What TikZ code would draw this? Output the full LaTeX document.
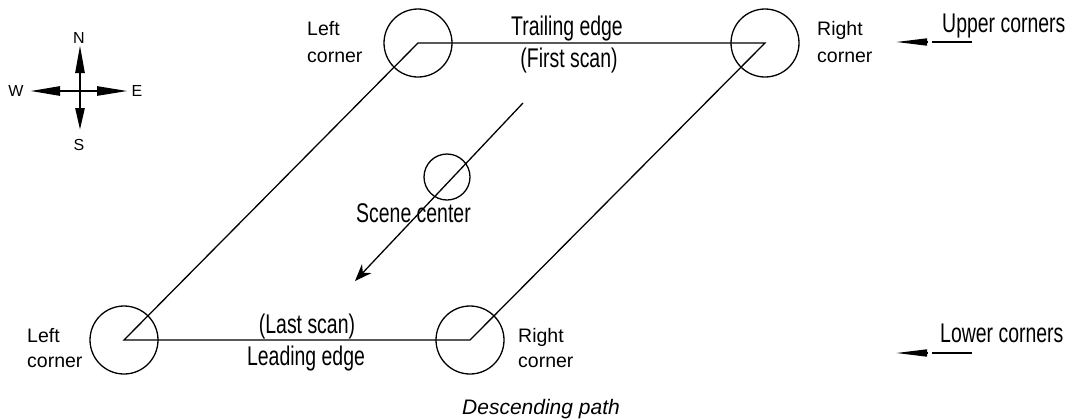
\documentclass[tikz,border=0pt]{standalone}
\usepackage{fontspec}
\setmainfont{Liberation Sans}
\usetikzlibrary{arrows.meta}
\newcommand\condensed[1]{\scalebox{0.72}[1]{#1}}
\begin{document}
\begin{tikzpicture}[x=1pt,y=-1pt,
  edge/.style={line width=1.3pt},
  ring/.style={draw, circle, line width=1.3pt, minimum size=68pt, inner sep=0pt},
  big/.style={font=\fontsize{27}{30}\selectfont, inner sep=0pt, anchor=base},
  small/.style={font=\fontsize{19.5}{21}\selectfont, inner sep=0pt, anchor=base west},
  compasslabel/.style={font=\fontsize{16}{17}\selectfont, inner sep=0pt},
  compassarrow/.style={line width=2.6pt},
]
\useasboundingbox (0,0) rectangle (1075,418);

% corner circles
\node[ring] (ul) at (418,43) {};
\node[ring] (ur) at (765,43) {};
\node[ring] (ll) at (124,340) {};
\node[ring] (lr) at (470,340) {};
% scene parallelogram
\draw[edge] (ul.center) -- (ur.center) -- (lr.center) -- (ll.center) -- cycle;

% scene center
\node[ring, minimum size=46pt] (sc) at (447,177) {};
\coordinate (scanstart) at (523,103);
\coordinate (scanend) at (355,281);
\draw[edge, -{Stealth[length=17pt,width=13pt]}] (scanstart) -- (scanend);
\node[big, anchor=base west] (scenetxt) at (356,222) {\condensed{Scene center}};

% edge labels
\node[big] (trail) at (567,35) {\condensed{Trailing edge}};
\node[big] (first) at (569,67) {\condensed{(First scan)}};
\node[big] (last) at (307,333) {\condensed{(Last scan)}};
\node[big] (lead) at (306,365) {\condensed{Leading edge}};

% corner labels
\node[small] (ulA) at (307,35) {Left};
\node[small] (ulB) at (307,62) {corner};
\node[small] (urA) at (817,35) {Right};
\node[small] (urB) at (817,62) {corner};
\node[small] (llA) at (27,342) {Left};
\node[small] (llB) at (27,367) {corner};
\node[small] (lrA) at (518,342) {Right};
\node[small] (lrB) at (518,367) {corner};

% upper / lower corners
\node[big, anchor=base west] (upper) at (942,32) {\condensed{Upper corners}};
\node[big, anchor=base west] (lower) at (940,342) {\condensed{Lower corners}};
\coordinate (uS) at (972,42);
\coordinate (uG) at (932,42);
\coordinate (uH) at (927,42);
\coordinate (uT) at (896,42);
\draw[line width=1.6pt] (uS) -- (uG);
\draw[line width=1.6pt, -{Triangle[length=31pt,width=7pt]}] (uH) -- (uT);
\coordinate (lS) at (972,353);
\coordinate (lG) at (932,353);
\coordinate (lH) at (927,353);
\coordinate (lT) at (896,353);
\draw[line width=1.6pt] (lS) -- (lG);
\draw[line width=1.6pt, -{Triangle[length=31pt,width=7pt]}] (lH) -- (lT);

% compass
\coordinate (cc) at (80,91);
\coordinate (cN) at (80,45);
\coordinate (cS) at (80,130);
\coordinate (cW) at (30,91);
\coordinate (cE) at (128,91);
\draw[compassarrow, -{Triangle[length=28pt,width=9pt]}] (cc) -- (cN);
\draw[compassarrow, -{Triangle[length=22pt,width=9pt]}] (cc) -- (cS);
\draw[compassarrow, -{Triangle[length=30pt,width=9pt]}] (cc) -- (cW);
\draw[compassarrow, -{Triangle[length=31pt,width=9pt]}] (cc) -- (cE);
\node[compasslabel] (nN) at (79,38) {N};
\node[compasslabel] (nS) at (79,145) {S};
\node[compasslabel] (nW) at (16,91) {W};
\node[compasslabel] (nE) at (137,91) {E};

% caption
\node[font=\fontsize{21}{24}\selectfont\itshape, inner sep=0pt, anchor=base] (cap) at (541,414) {Descending path};
\end{tikzpicture}
\end{document}
